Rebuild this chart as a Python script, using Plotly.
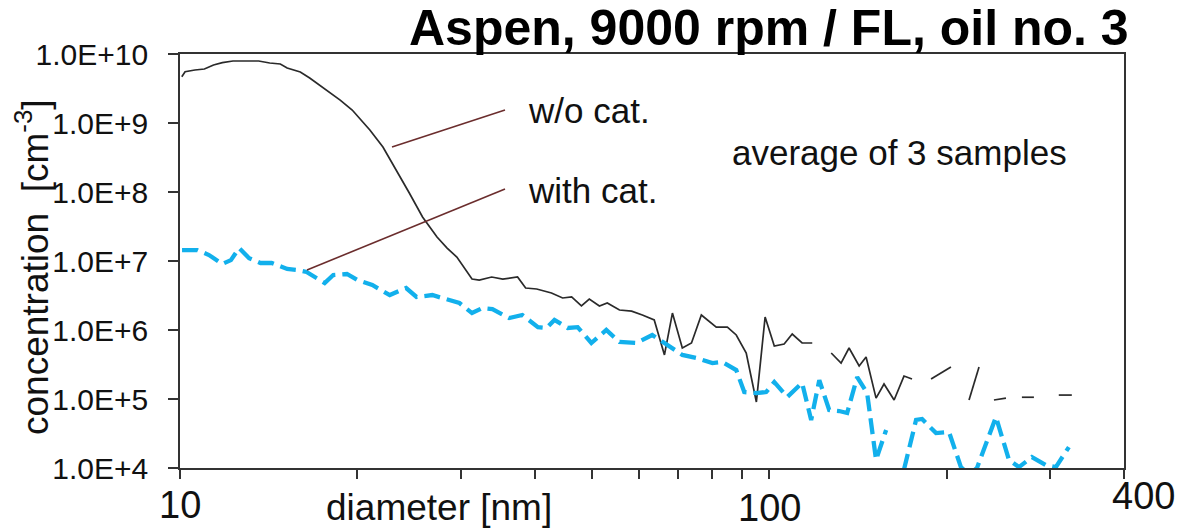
import math
import plotly.graph_objects as go

# ---------------- data ----------------
diam_wo = [10.07, 10.2, 10.6, 11.0, 11.4, 11.8, 12.3, 13.6, 14.2, 14.8, 15.2, 16.0, 16.6, 17.5,
           18.7, 19.6, 21.0, 22.1, 23.3, 24.5, 25.8, 27.3, 28.4, 29.5, 31.3, 32.2, 33.8, 35.3,
           37.4, 38.6, 40.3, 42.7, 44.6, 46.2, 48.0, 49.5, 51.5, 53.1, 55.7, 58.4, 60.9, 63.8,
           66.4, 68.5, 71.2, 73.8, 76.7, 81.3, 84.9, 87.9, 91.4, 95.1, 98.4, 102.0, 106.0, 109.4,
           113.7, 118.3, 122.5, 127.4, 132.4, 136.6, 142.1, 146.0, 151.8, 156.6, 162.9, 169.3,
           174.7, 181.0, 188.2, 203.4, 210.7, 218.3, 227.0, 233.3, 240.6, 252.2, 260.2, 268.4,
           281.3, 294.8, 310.0, 326.2]
conc_wo = [4.69e9, 5.53e9, 5.86e9, 6.06e9, 6.93e9, 7.48e9, 7.92e9, 7.92e9, 7.41e9, 7.16e9,
           6.27e9, 5.48e9, 4.49e9, 3.21e9, 2.15e9, 1.54e9, 7.92e8, 4.49e8, 2.08e8, 9.68e7,
           4.35e7, 2.23e7, 1.54e7, 1.14e7, 5.48e6, 5.3e6, 5.86e6, 5.48e6, 5.86e6, 4.06e6,
           3.93e6, 3.44e6, 2.91e6, 3.01e6, 2.23e6, 2.81e6, 2.23e6, 2.46e6, 1.95e6, 1.88e6,
           1.65e6, 1.40e6, 4.35e5, 1.76e6, 5.48e5, 6.48e5, 1.65e6, 1.10e6, 1.10e6, 8.47e5,
           4.64e5, 9.06e4, 1.54e6, 5.86e5, 6.27e5, 8.75e5, 6.48e5, 6.48e5, None, 4.64e5,
           3.32e5, 5.48e5, 3.01e5, 4.06e5, 1.03e5, 1.65e5, 9.68e4, 2.15e5, 1.95e5, None,
           1.95e5, 2.91e5, None, 9.68e4, 2.91e5, None, 9.68e4, 1.03e5, None, 1.06e5,
           1.06e5, None, 1.14e5, 1.14e5]

diam_w = [10.08, 10.7, 11.2, 11.8, 12.2, 12.6, 13.1, 13.7, 14.3, 15.2, 15.8, 16.4, 17.6, 18.2,
          19.2, 20.0, 21.2, 22.7, 24.2, 25.2, 26.8, 28.4, 29.8, 31.3, 32.6, 33.9, 36.2, 38.1,
          40.5, 41.9, 43.2, 45.5, 47.3, 49.9, 52.9, 55.7, 59.5, 63.3, 66.9, 71.2, 75.2, 80.1,
          83.2, 87.9, 90.7, 95.1, 98.8, 102.0, 107.3, 113.7, 117.8, 121.6, 126.4, 131.4, 135.6,
          141.0, 146.6, 151.8, 157.9, 163.5, 169.3, 177.5, 181.7, 191.9, 201.9, 211.5, 218.3,
          225.2, 242.5, 255.2, 265.3, 279.1, 294.8, 306.5, 322.5]
conc_w = [1.44e7, 1.44e7, 1.22e7, 9.06e6, 1.03e7, 1.54e7, 1.10e7, 9.36e6, 9.36e6, 7.66e6,
          7.41e6, 6.93e6, 4.80e6, 6.27e6, 6.48e6, 5.31e6, 4.49e6, 3.21e6, 4.06e6, 3.01e6,
          3.21e6, 2.81e6, 2.46e6, 1.76e6, 2.08e6, 2.01e6, 1.49e6, 1.65e6, 1.10e6, 1.07e6,
          1.40e6, 1.07e6, 1.10e6, 6.48e5, 1.0e6, 6.70e5, 6.48e5, 8.47e5, 6.07e5, 4.35e5,
          3.93e5, 3.32e5, 3.44e5, 2.63e5, 1.26e5, 1.22e5, 1.26e5, 1.76e5, 1.07e5, 1.71e5,
          4.97e4, 1.88e5, 6.93e4, 6.70e4, 6.27e4, 2.08e5, 1.22e5, 1.31e4, 3.56e4, None,
          9.5e3, 4.97e4, 5.13e4, 3.21e4, 3.32e4, 1.03e4, 8e3, 1.0e4, 5.48e4, 1.31e4,
          1.03e4, 1.44e4, 1.10e4, 1.03e4, 2.01e4]

y_tick_vals = [1e4, 1e5, 1e6, 1e7, 1e8, 1e9, 1e10]
y_tick_text = ["1.0E+4", "1.0E+5", "1.0E+6", "1.0E+7", "1.0E+8", "1.0E+9", "1.0E+10"]
x_tick_vals = [10, 20, 30, 40, 50, 60, 70, 80, 90, 100, 200, 300, 400]
x_label_vals = [10, 100, 400]
x_label_text = ["10", "100", "400"]

title_text = "Aspen, 9000 rpm / FL, oil no. 3"
label_wo = "w/o cat."
label_w = "with cat."
note_text = "average of 3 samples"

# ---------------- figure ----------------
FONT = "Liberation Sans, Arial, sans-serif"
fig = go.Figure()
fig.add_trace(go.Scatter(x=diam_wo, y=conc_wo, mode="lines", connectgaps=False,
                         line=dict(color="#2a2a2a", width=1.7), showlegend=False))
fig.add_trace(go.Scatter(x=diam_w, y=conc_w, mode="lines", connectgaps=False,
                         line=dict(color="#12B0EC", width=4.3, dash="16px,7px"), showlegend=False))

fig.update_xaxes(type="log", range=[1, math.log10(400)], tickvals=x_tick_vals,
                 showticklabels=False, ticks="outside", ticklen=9, tickwidth=1.5,
                 tickcolor="#333", showline=True, linecolor="#333", linewidth=1.6, mirror=True,
                 showgrid=False, zeroline=False)
fig.update_yaxes(type="log", range=[4, 10], tickvals=y_tick_vals, ticktext=y_tick_text,
                 ticks="outside", ticklen=10, tickwidth=1.5, tickcolor="#333",
                 showline=True, linecolor="#333", linewidth=1.6, mirror=True,
                 showgrid=False, zeroline=False, ticklabelstandoff=14,
                 tickfont=dict(family=FONT, size=30, color="#111"))

L, R, T, B = 180, 1124, 54, 468
W, H = R - L, B - T


def px(xp):
    return (xp - L) / W


def py(yp):
    return (B - yp) / H


ann = []
# x tick labels
x_label_shift = [0, 0, 19]
x_label_y = [505, 508, 496]
for v, t, sh, yy in zip(x_label_vals, x_label_text, x_label_shift, x_label_y):
    ann.append(dict(x=math.log10(v), xref="x", y=py(yy), yref="paper", text=t, showarrow=False,
                    xanchor="center", yanchor="middle", xshift=sh,
                    font=dict(family=FONT, size=38, color="#111")))
ann.append(dict(x=px(439), xref="paper", y=py(507), yref="paper", text="diameter [nm]",
                showarrow=False, xanchor="center", yanchor="middle",
                font=dict(family=FONT, size=37, color="#111")))
ann.append(dict(x=px(32), xref="paper", y=py(267), yref="paper",
                text="concentration\u00a0\u00a0[cm<sup>-3</sup>]", textangle=-90,
                showarrow=False, xanchor="center", yanchor="middle",
                font=dict(family=FONT, size=37, color="#111")))
ann.append(dict(x=px(1131), xref="paper", y=py(28), yref="paper", text="<b>" + title_text + "</b>",
                showarrow=False, xanchor="right", yanchor="middle",
                font=dict(family=FONT, size=50, color="#000")))
ann.append(dict(x=px(526), xref="paper", y=py(111), yref="paper", text=label_wo, showarrow=False,
                xanchor="left", yanchor="middle", font=dict(family=FONT, size=35, color="#111")))
ann.append(dict(x=px(526), xref="paper", y=py(190), yref="paper", text=label_w, showarrow=False,
                xanchor="left", yanchor="middle", font=dict(family=FONT, size=35, color="#111")))
ann.append(dict(x=px(730), xref="paper", y=py(152), yref="paper", text=note_text, showarrow=False,
                xanchor="left", yanchor="middle", font=dict(family=FONT, size=35, color="#111")))

shapes = [
    dict(type="line", xref="paper", yref="paper", x0=px(392), y0=py(147), x1=px(505), y1=py(110),
         line=dict(color="#6b2d2d", width=1.6)),
    dict(type="line", xref="paper", yref="paper", x0=px(307), y0=py(270), x1=px(505), y1=py(189),
         line=dict(color="#6b2d2d", width=1.6)),
]

fig.update_layout(width=1180, height=530, margin=dict(l=L, r=1180 - R, t=T, b=530 - B),
                  paper_bgcolor="white", plot_bgcolor="white", annotations=ann, shapes=shapes,
                  font=dict(family=FONT, color="#111"), showlegend=False)

fig.write_html("out.html")
